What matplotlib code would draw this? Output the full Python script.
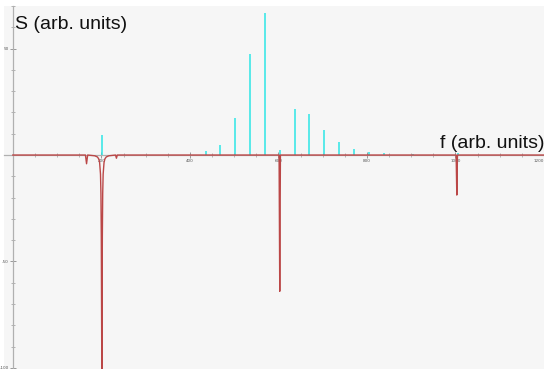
import matplotlib
matplotlib.use('Agg')
import matplotlib.pyplot as plt
from matplotlib.ticker import MultipleLocator

# cyan stick spectrum (positive)
cyan_f = [201, 436, 469, 502, 536, 570, 603, 637, 670, 703, 737, 771, 804, 838, 904, 1006]
cyan_s = [9.4, 1.9, 4.7, 17.4, 47.4, 66.7, 2.3, 21.6, 19.2, 11.7, 6.1, 2.8, 1.4, 0.8, 0.6, 0.8]

# red spectrum (negative)
red_f = [0, 164, 166.5, 169, 185, 191, 194, 196, 198, 199, 199.8, 200.4, 201,
         201.6, 202.2, 203, 204, 206, 208, 211, 217, 232, 234, 236,
         601.5, 603, 604.5, 1001.5, 1003, 1004.5, 1200]
red_s = [0, 0, -4.1, 0, -0.35, -0.9, -1.8, -3.5, -9, -18, -38, -70, -103,
         -70, -38, -18, -9, -3.5, -1.8, -0.9, -0.35, 0, -1.5, 0,
         0, -64, 0, 0, -18.8, 0, 0]

x_ticks = [200, 400, 600, 800, 1000, 1200]
y_ticks = [50, 0, -50, -100]

fig = plt.figure(figsize=(5.44, 3.69), dpi=100, facecolor='white')
ax = fig.add_axes([4 / 544, 0, 540 / 544, 363 / 369])
ax.set_facecolor('#f6f6f6')

ax.vlines(cyan_f, 0, cyan_s, color='#2ee6e6', lw=1.1, zorder=3)
ax.plot(red_f, red_s, color='#bb4747', lw=1.0, zorder=4)

ax.set_xlim(-20, 1200)
ax.set_ylim(-100.5, 70)

for side in ['top', 'right']:
    ax.spines[side].set_visible(False)
ax.spines['left'].set_position(('data', 0))
ax.spines['bottom'].set_position(('data', 0))
for side in ['left', 'bottom']:
    ax.spines[side].set_color('#b0b0b0')
    ax.spines[side].set_linewidth(0.9)

ax.set_xticks(x_ticks)
ax.set_xticklabels([str(v) for v in x_ticks])
ax.get_xticklabels()[-1].set_ha('right')
ax.set_yticks(y_ticks)
ax.set_yticklabels(['50', '', '-50', '-100'])
ax.xaxis.set_minor_locator(MultipleLocator(50))
ax.yaxis.set_minor_locator(MultipleLocator(10))
ax.tick_params(which='both', direction='inout', color='#999999', labelsize=3,
               labelcolor='#555555', pad=1)
ax.tick_params(which='major', length=4, width=0.7)
ax.tick_params(which='minor', length=2.5, width=0.5)

fig.text(15 / 544, 1 - 29 / 369, 'S (arb. units)', fontsize=14,
         family='Liberation Sans', color='#111111')
fig.text(1.0, 1 - 148 / 369, 'f (arb. units)', fontsize=14, ha='right',
         family='Liberation Sans', color='#111111')

fig.savefig('out.png', dpi=100, facecolor='white')
